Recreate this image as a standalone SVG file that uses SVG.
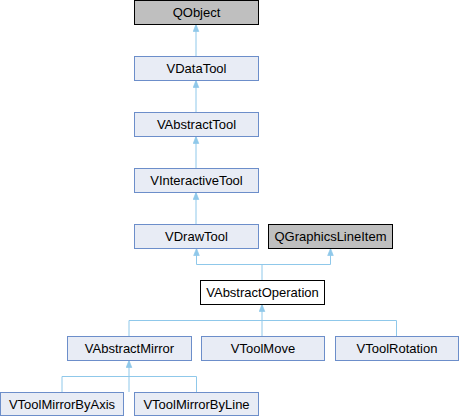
<svg xmlns="http://www.w3.org/2000/svg" width="459" height="416" viewBox="0 0 459 416">
<style>
.n rect{fill:#E8ECF5;stroke:#6C8ECA;stroke-width:1}
.g rect{fill:#BFBFBF;stroke:#000;stroke-width:1}
.w rect{fill:#FFFFFF;stroke:#000;stroke-width:1}
text{font-family:"Liberation Sans",Arial,sans-serif;font-size:13px;text-anchor:middle;fill:#000}
.e{fill:none;stroke:#8FC8EA;stroke-width:1;marker-end:url(#a)}
.l{fill:none;stroke:#8FC8EA;stroke-width:1}
</style>
<defs>
<marker id="a" viewBox="0 0 10 10" refX="10" refY="5" markerWidth="7" markerHeight="7" markerUnits="userSpaceOnUse" orient="auto">
<path d="M0,1 L10,5 L0,9 Z" fill="#8FC8EA" stroke="#8FC8EA"/>
</marker>
</defs>
<g id="connectors">
<path class="e" d="M196,56 V24.5"/>
<path class="e" d="M196,112 V80.5"/>
<path class="e" d="M196,168 V136.5"/>
<path class="e" d="M196,224 V192.5"/>
<path class="l" d="M262,280 V264.5 H196.5"/>
<path class="e" d="M196.5,264.5 V248.5"/>
<path class="l" d="M262,264.5 H330.5"/>
<path class="e" d="M330.5,264.5 V248.5"/>
<path class="e" d="M262,336 V304.5"/>
<path class="l" d="M129,336 V320.5 H396.5 V336"/>
<path class="e" d="M129,392 V360.5"/>
<path class="l" d="M62,392 V376.5 H196.5 V392"/>
</g>
<g id="QObject" class="g"><rect x="134.5" y="0.5" width="124" height="24"/><text x="196.5" y="17">QObject</text></g>
<g id="VDataTool" class="n"><rect x="134.5" y="56.5" width="124" height="24"/><text x="196.5" y="73">VDataTool</text></g>
<g id="VAbstractTool" class="n"><rect x="134.5" y="112.5" width="124" height="24"/><text x="196.5" y="129">VAbstractTool</text></g>
<g id="VInteractiveTool" class="n"><rect x="134.5" y="168.5" width="124" height="24"/><text x="196.5" y="185">VInteractiveTool</text></g>
<g id="VDrawTool" class="n"><rect x="134.5" y="224.5" width="124" height="24"/><text x="196.5" y="241">VDrawTool</text></g>
<g id="QGraphicsLineItem" class="g"><rect x="268.5" y="224.5" width="124" height="24"/><text x="330.5" y="241">QGraphicsLineItem</text></g>
<g id="VAbstractOperation" class="w"><rect x="200.5" y="280.5" width="124" height="24"/><text x="262.5" y="297">VAbstractOperation</text></g>
<g id="VAbstractMirror" class="n"><rect x="67.5" y="336.5" width="124" height="24"/><text x="129.5" y="353">VAbstractMirror</text></g>
<g id="VToolMove" class="n"><rect x="201.5" y="336.5" width="123" height="24"/><text x="263" y="353">VToolMove</text></g>
<g id="VToolRotation" class="n"><rect x="335.5" y="336.5" width="123" height="24"/><text x="397" y="353">VToolRotation</text></g>
<g id="VToolMirrorByAxis" class="n"><rect x="0.5" y="392.5" width="123" height="23"/><text x="62" y="409">VToolMirrorByAxis</text></g>
<g id="VToolMirrorByLine" class="n"><rect x="134.5" y="392.5" width="124" height="23"/><text x="196.5" y="409">VToolMirrorByLine</text></g>
</svg>
